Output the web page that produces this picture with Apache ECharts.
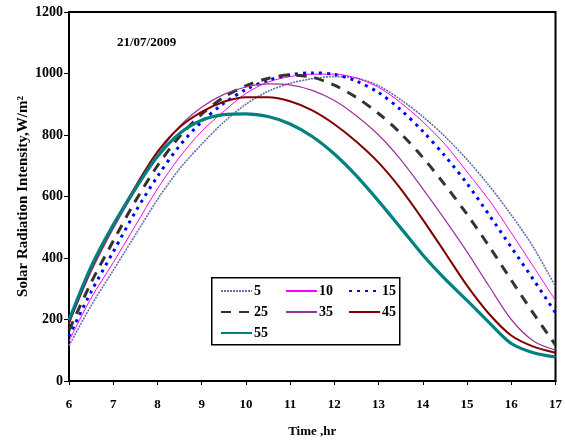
<!DOCTYPE html>
<html>
<head>
<meta charset="utf-8">
<script src="https://cdn.jsdelivr.net/npm/echarts@6/dist/echarts.min.js"></script>
<style>
html,body{margin:0;padding:0;background:#fff;}
#chart{width:565px;height:443px;}
</style>
</head>
<body>
<div id="chart"></div>
<script>
// Time (hr)
var hours = [6, 6.5, 7, 7.5, 8, 8.5, 9, 9.5, 10, 10.5, 11, 11.5, 12, 12.5, 13, 13.5, 14, 14.5, 15, 15.5, 16, 16.5, 17];
var xTicks = [6, 7, 8, 9, 10, 11, 12, 13, 14, 15, 16, 17];
var yTicks = [0, 200, 400, 600, 800, 1000, 1200];
var seriesNames = ['5', '10', '15', '25', '35', '45', '55'];
var dateLabel = '21/07/2009';

var s5  = [115, 245, 360, 475, 590, 690, 770, 842, 900, 942, 968, 983, 990, 985, 960, 915, 860, 795, 720, 635, 540, 435, 307];
var s10 = [130, 270, 385, 505, 625, 728, 812, 877, 935, 972, 990, 998, 998, 985, 955, 905, 843, 770, 680, 588, 482, 372, 262];
var s15 = [145, 290, 420, 550, 665, 765, 843, 903, 948, 978, 996, 1002, 997, 975, 938, 882, 812, 732, 642, 540, 435, 330, 222];
var s25 = [165, 320, 455, 585, 700, 795, 868, 923, 960, 984, 995, 988, 962, 922, 870, 805, 727, 638, 542, 438, 328, 220, 117];
var s35 = [185, 355, 495, 620, 735, 828, 890, 932, 956, 966, 963, 945, 912, 862, 800, 720, 625, 525, 420, 308, 200, 130, 100];
var s45 = [190, 365, 505, 632, 745, 825, 875, 908, 923, 923, 910, 880, 835, 778, 710, 625, 525, 418, 310, 218, 148, 112, 92];
var s55 = [198, 372, 508, 625, 730, 805, 848, 866, 869, 860, 836, 795, 738, 667, 585, 498, 410, 332, 262, 190, 122, 92, 78];

var values = [s5, s10, s15, s25, s35, s45, s55];
var styles = [
  {color: '#6a6ab0', width: 1.6, type: [2, 1]},
  {color: '#ff00ff', width: 1, type: 'solid'},
  {color: '#0000ff', width: 3, type: [3, 5]},
  {color: '#333333', width: 3, type: [10, 8]},
  {color: '#993399', width: 1.2, type: 'solid'},
  {color: '#800000', width: 2, type: 'solid'},
  {color: '#008080', width: 3.2, type: 'solid'}
];

function pair(arr) {
  return hours.map(function (h, i) { return [h, arr[i]]; });
}

var series = seriesNames.map(function (n, i) {
  return {
    name: n,
    type: 'line',
    smooth: 0.3,
    symbol: 'none',
    data: pair(values[i]),
    color: styles[i].color,
    lineStyle: {color: styles[i].color, width: styles[i].width, type: styles[i].type},
    z: 2 + i
  };
});

var labelFont = {fontFamily: 'Liberation Serif', fontWeight: 'bold', color: '#000'};

function legendCol(names, left) {
  return {
    data: names,
    orient: 'vertical',
    left: left,
    top: 284,
    z: 20,
    itemWidth: 31,
    itemHeight: 14,
    itemGap: 7,
    padding: 0,
    itemStyle: {opacity: 0},
    textStyle: {fontFamily: 'Liberation Serif', fontWeight: 'bold', fontSize: 14, color: '#000', padding: [0, 0, 0, -3]},
    selectedMode: false
  };
}

var option = {
  animation: false,
  backgroundColor: '#fff',
  grid: {left: 69, right: 9, top: 12, bottom: 62, show: true, borderColor: '#000', borderWidth: 2, backgroundColor: 'transparent'},
  xAxis: {
    type: 'value', min: xTicks[0], max: xTicks[xTicks.length - 1], interval: 1,
    name: 'Time ,hr', nameLocation: 'middle', nameGap: 44, nameMoveOverlap: false,
    nameTextStyle: Object.assign({fontSize: 13}, labelFont),
    axisLine: {show: true, lineStyle: {color: '#000', width: 2}},
    axisTick: {show: true, inside: false, length: 4, lineStyle: {color: '#000', width: 1}},
    axisLabel: Object.assign({fontSize: 13, margin: 17, formatter: function (v) { return String(v); }}, labelFont),
    splitLine: {show: false}
  },
  yAxis: {
    type: 'value', min: yTicks[0], max: yTicks[yTicks.length - 1], interval: 200,
    name: 'Solar Radiation Intensity,W/m²', nameLocation: 'middle', nameGap: 38, nameRotate: 90, nameMoveOverlap: false,
    nameTextStyle: Object.assign({fontSize: 15}, labelFont),
    axisLine: {show: true, lineStyle: {color: '#000', width: 2}},
    axisTick: {show: true, inside: false, length: 5, lineStyle: {color: '#000', width: 1}},
    axisLabel: Object.assign({fontSize: 14, margin: 6, formatter: function (v) { return String(v); }}, labelFont),
    splitLine: {show: false}
  },
  legend: [
    legendCol(['5', '25', '55'], 220),
    legendCol(['10', '35'], 285),
    legendCol(['15', '45'], 348)
  ],
  graphic: [
    {type: 'rect', left: 211, top: 277, shape: {width: 188, height: 67}, style: {fill: '#fff', stroke: '#000', lineWidth: 1.5}, z: 15},
    {type: 'text', left: 117, top: 36, style: {text: dateLabel, font: 'bold 13px "Liberation Serif"', fill: '#000'}, z: 15}
  ],
  series: series
};

var chart = echarts.init(document.getElementById('chart'), null, {renderer: 'canvas'});
chart.setOption(option);
</script>
</body>
</html>
